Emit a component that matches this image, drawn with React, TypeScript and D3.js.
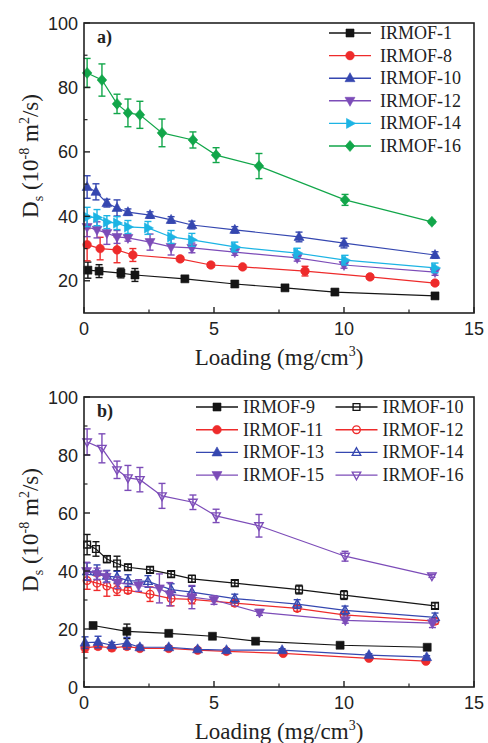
import React from 'react';
import * as d3 from 'd3';

// ---------- axes ----------
const xTicks = [0, 5, 10, 15];
const xMinor = [2.5, 7.5, 12.5];
const yTicksA = [20, 40, 60, 80, 100];
const yTicksB = [0, 20, 40, 60, 80, 100];
const yMinor = [10, 30, 50, 70, 90];

// ---------- panel a ----------
const irmof1X = [0.15, 0.58, 1.42, 1.96, 3.88, 5.8, 7.73, 9.65, 13.5];
const irmof1Y = [23.3, 23.0, 22.4, 21.8, 20.6, 19.0, 17.8, 16.5, 15.3];
const irmof1E = [2.5, 2, 1.5, 2, 0.5, 0.5, 0.5, 0.5, 0.5];

const irmof8X = [0.12, 0.62, 1.27, 1.88, 3.7, 4.88, 6.1, 8.5, 11.0, 13.5];
const irmof8Y = [31.2, 30.0, 29.6, 28.0, 26.8, 24.9, 24.3, 23.0, 21.2, 19.3];
const irmof8E = [5, 3.5, 4, 2, 0.7, 0.7, 0.7, 1.5, 0.7, 0.7];

const irmof10X = [0.12, 0.46, 0.88, 1.27, 1.69, 2.54, 3.35, 4.15, 5.8, 8.27, 10.0, 13.5];
const irmof10Y = [49.1, 47.6, 44.1, 42.6, 41.3, 40.4, 38.9, 37.3, 35.8, 33.6, 31.7, 28.0];
const irmof10E = [3.5, 2.5, 1.2, 2.5, 1, 1, 1, 1.2, 1, 1.5, 1.5, 1];

const irmof12X = [0.12, 0.5, 0.88, 1.27, 1.69, 2.54, 3.35, 4.15, 5.8, 8.2, 10.0, 13.5];
const irmof12Y = [36.7, 35.8, 34.8, 33.6, 33.3, 32.0, 30.5, 30.2, 28.9, 27.1, 24.9, 22.7];
const irmof12E = [3, 2.5, 3.5, 2, 1, 2.5, 2.5, 1.5, 1, 1, 1, 1];

const irmof14X = [0.12, 0.5, 0.88, 1.27, 1.69, 2.46, 3.35, 4.15, 5.8, 8.2, 10.04, 13.5];
const irmof14Y = [39.8, 39.6, 38.2, 37.9, 36.7, 36.4, 33.6, 32.7, 30.5, 28.6, 26.4, 24.0];
const irmof14E = [3, 2.5, 2, 2, 2, 2, 2, 2, 1.5, 1.5, 1.5, 1.5];

const irmof16X = [0.12, 0.69, 1.27, 1.69, 2.15, 3.0, 4.19, 5.08, 6.73, 10.04, 13.38];
const irmof16Y = [84.5, 82.3, 74.9, 72.1, 71.5, 65.9, 63.7, 59.0, 55.6, 45.1, 38.3];
const irmof16E = [4.5, 5, 3, 4.3, 4.2, 4.3, 2.5, 2.3, 3.9, 1.7, 0.5];

// ---------- panel b (extra series) ----------
const irmof9X = [0.35, 1.65, 3.26, 4.94, 6.6, 9.85, 13.2];
const irmof9Y = [21.2, 19.2, 18.5, 17.5, 15.8, 14.4, 13.7];
const irmof9E = [1, 2.5, 1, 0.5, 0.5, 0.5, 0.5];

const irmof11X = [0.04, 0.54, 1.07, 1.65, 2.15, 3.26, 4.37, 5.48, 7.66, 10.96, 13.15];
const irmof11Y = [13.5, 14.0, 13.5, 14.0, 13.3, 13.3, 12.7, 12.3, 11.6, 9.9, 8.9];
const irmof11E = [1.5, 1, 1, 1, 0.5, 0.5, 0.5, 0.5, 0.5, 0.5, 0.5];

const irmof13X = [0.04, 0.54, 1.07, 1.65, 2.15, 3.26, 4.37, 5.48, 7.62, 10.96, 13.18];
const irmof13Y = [15.3, 15.5, 14.4, 15.1, 13.7, 13.7, 13.0, 12.7, 12.7, 11.0, 10.3];
const irmof13E = [2, 2, 1, 2, 0.7, 0.5, 0.5, 0.5, 0.5, 0.5, 0.5];

const irmof15X = [0.1, 0.5, 0.85, 1.3, 2.1, 2.9, 3.3, 4.15, 5.0, 6.75, 10.05, 13.4];
const irmof15Y = [40, 39, 38, 36, 35, 34, 32, 31, 30, 25.7, 23, 22];
const irmof15E = [3, 2, 2, 2, 2, 5, 4, 4, 1.5, 1, 1, 1.5];

const C = {
  black: '#151515',
  red: '#ee2b2b',
  blue: '#3547b0',
  purple: '#7c4cb8',
  cyan: '#1cb4e4',
  green: '#12a64a',
};

type Shape = 'square' | 'circle' | 'up' | 'down' | 'right' | 'diamond';
interface Series {
  name: string;
  x: number[];
  y: number[];
  e: number[];
  color: string;
  shape: Shape;
  filled: boolean;
}

const mk = (name: string, x: number[], y: number[], e: number[], color: string, shape: Shape, filled: boolean): Series =>
  ({ name, x, y, e, color, shape, filled });

const seriesA: Series[] = [
  mk('IRMOF-1', irmof1X, irmof1Y, irmof1E, C.black, 'square', true),
  mk('IRMOF-8', irmof8X, irmof8Y, irmof8E, C.red, 'circle', true),
  mk('IRMOF-10', irmof10X, irmof10Y, irmof10E, C.blue, 'up', true),
  mk('IRMOF-12', irmof12X, irmof12Y, irmof12E, C.purple, 'down', true),
  mk('IRMOF-14', irmof14X, irmof14Y, irmof14E, C.cyan, 'right', true),
  mk('IRMOF-16', irmof16X, irmof16Y, irmof16E, C.green, 'diamond', true),
];

const seriesB: Series[] = [
  mk('IRMOF-9', irmof9X, irmof9Y, irmof9E, C.black, 'square', true),
  mk('IRMOF-10', irmof10X, irmof10Y, irmof10E, C.black, 'square', false),
  mk('IRMOF-11', irmof11X, irmof11Y, irmof11E, C.red, 'circle', true),
  mk('IRMOF-12', irmof12X, irmof12Y, irmof12E, C.red, 'circle', false),
  mk('IRMOF-13', irmof13X, irmof13Y, irmof13E, C.blue, 'up', true),
  mk('IRMOF-14', irmof14X, irmof14Y, irmof14E, C.blue, 'up', false),
  mk('IRMOF-15', irmof15X, irmof15Y, irmof15E, C.purple, 'down', true),
  mk('IRMOF-16', irmof16X, irmof16Y, irmof16E, C.purple, 'down', false),
];

const markerPath = (s: Shape): string => {
  switch (s) {
    case 'square': return 'M-4,-4h8v8h-8Z';
    case 'up': return 'M0,-5.5L5,3.5L-5,3.5Z';
    case 'down': return 'M0,5.5L5,-3.5L-5,-3.5Z';
    case 'right': return 'M5.5,0L-3.5,-5L-3.5,5Z';
    case 'diamond': return 'M0,-5.5L4.8,0L0,5.5L-4.8,0Z';
    default: return '';
  }
};

const Marker: React.FC<{ s: Series; cx: number; cy: number }> = ({ s, cx, cy }) => {
  const fill = s.filled ? s.color : 'none';
  const sw = s.filled ? 0.6 : 1.4;
  if (s.shape === 'circle') {
    return <circle cx={cx} cy={cy} r={s.filled ? 4.3 : 3.8} fill={fill} stroke={s.color} strokeWidth={sw} />;
  }
  return <path transform={`translate(${cx},${cy})${s.filled ? '' : ' scale(0.85)'}`} d={markerPath(s.shape)} fill={fill} stroke={s.color} strokeWidth={s.filled ? sw : 1.6} />;
};

const SERIF = '"Liberation Serif", "Times New Roman", serif';
const SANS = '"Liberation Sans", Arial, sans-serif';
const TXT = '#222';

interface LegendPos { x: number; y: number; }

interface PanelProps {
  top: number;
  bottom: number;
  yDomain: [number, number];
  yTicks: number[];
  series: Series[];
  label: string;
  legend: LegendPos[];
  textOffset: number;
}

const LEFT = 84;
const RIGHT = 474;

const Panel: React.FC<PanelProps> = ({ top, bottom, yDomain, yTicks, series, label, legend, textOffset }) => {
  const x = d3.scaleLinear().domain([0, 15]).range([LEFT, RIGHT]);
  const y = d3.scaleLinear().domain(yDomain).range([bottom, top]);
  const midY = (top + bottom) / 2 - 12;
  return (
    <g>
      {series.map((s, si) => {
        const pts: [number, number][] = s.x.map((v, i) => [x(v), y(s.y[i])]);
        const path = d3.line()(pts) || '';
        return (
          <g key={si}>
            <path d={path} fill="none" stroke={s.color} strokeWidth={1.2} />
            {pts.map(([px], i) => {
              const y1 = y(s.y[i] + s.e[i]);
              const y2 = y(s.y[i] - s.e[i]);
              return (
                <g key={i} stroke={s.color} strokeWidth={1.4}>
                  <line x1={px} x2={px} y1={y1} y2={y2} />
                  <line x1={px - 3.5} x2={px + 3.5} y1={y1} y2={y1} />
                  <line x1={px - 3.5} x2={px + 3.5} y1={y2} y2={y2} />
                </g>
              );
            })}
            {pts.map(([px, py], i) => <Marker key={'m' + i} s={s} cx={px} cy={py} />)}
          </g>
        );
      })}
      {/* frame */}
      <rect x={LEFT} y={top} width={RIGHT - LEFT} height={bottom - top} fill="none" stroke="#222" strokeWidth={1.6} />
      {/* x ticks */}
      {xTicks.map((t) => (
        <g key={'xt' + t}>
          <line x1={x(t)} x2={x(t)} y1={bottom} y2={bottom - 6} stroke="#222" strokeWidth={1.4} />
          <text x={x(t)} y={bottom + 22} textAnchor="middle" fontFamily={SANS} fontSize={18} fill={TXT}>{t}</text>
        </g>
      ))}
      {xMinor.map((t) => (
        <line key={'xm' + t} x1={x(t)} x2={x(t)} y1={bottom} y2={bottom - 3.5} stroke="#222" strokeWidth={1.2} />
      ))}
      {yTicks.map((t) => (
        <g key={'yt' + t}>
          <line x1={LEFT} x2={LEFT + 6} y1={y(t)} y2={y(t)} stroke="#222" strokeWidth={1.4} />
          <text x={LEFT - 6} y={y(t) + 6.5} textAnchor="end" fontFamily={SANS} fontSize={18} fill={TXT}>{t}</text>
        </g>
      ))}
      {yMinor.filter((t) => t > yDomain[0]).map((t) => (
        <line key={'ym' + t} x1={LEFT} x2={LEFT + 3.5} y1={y(t)} y2={y(t)} stroke="#222" strokeWidth={1.2} />
      ))}
      {/* panel label */}
      <text x={97} y={top + 20} fontFamily={SERIF} fontWeight="bold" fontSize={18} fill={TXT}>{label}</text>
      {/* axis labels */}
      <text x={(LEFT + RIGHT) / 2} y={bottom + 52} textAnchor="middle" fontFamily={SERIF} fontSize={23} fill={TXT}>
        Loading (mg/cm<tspan dy={-9} fontSize={14}>3</tspan><tspan dy={9}>)</tspan>
      </text>
      <text transform={`translate(38,${midY}) rotate(-90)`} textAnchor="middle" fontFamily={SERIF} fontSize={23} fill={TXT}>
        D<tspan dy={5} fontSize={14}>s</tspan><tspan dy={-5}> (10</tspan><tspan dy={-9} fontSize={14}>-8</tspan><tspan dy={9}> m</tspan><tspan dy={-9} fontSize={14}>2</tspan><tspan dy={9}>/s)</tspan>
      </text>
      {/* legend */}
      {series.map((s, i) => {
        const L = legend[i];
        return (
          <g key={'lg' + i}>
            <line x1={L.x - 21} x2={L.x + 21} y1={L.y} y2={L.y} stroke={s.color} strokeWidth={1.4} />
            <Marker s={s} cx={L.x} cy={L.y} />
            <text x={L.x + textOffset} y={L.y + 6} fontFamily={SERIF} fontSize={18} fill={TXT}>{s.name}</text>
          </g>
        );
      })}
    </g>
  );
};

const legendA: LegendPos[] = seriesA.map((_, i) => ({ x: 350, y: 33 + i * 22.6 }));
const legendB: LegendPos[] = seriesB.map((_, i) => ({ x: i % 2 === 0 ? 217 : 356.5, y: 407 + Math.floor(i / 2) * 22.7 }));

export default function App() {
  return (
    <svg width={488} height={743} style={{ position: 'absolute', left: 0, top: 0, background: '#fff' }}>
      <rect width={488} height={743} fill="#fff" />
      <Panel top={23} bottom={313} yDomain={[10, 100]} yTicks={yTicksA} series={seriesA} label="a)" legend={legendA} textOffset={30} />
      <Panel top={397} bottom={687} yDomain={[0, 100]} yTicks={yTicksB} series={seriesB} label="b)" legend={legendB} textOffset={26} />
    </svg>
  );
}
